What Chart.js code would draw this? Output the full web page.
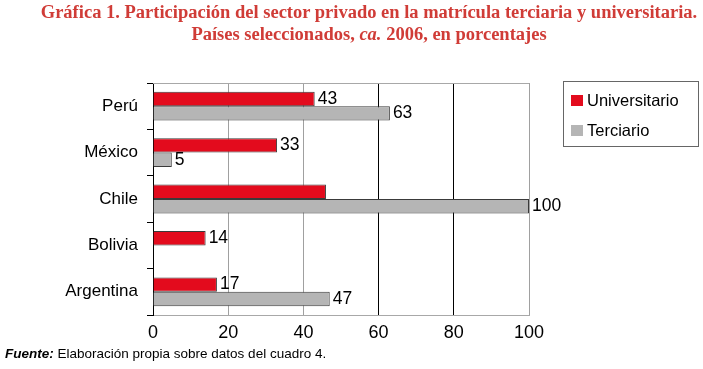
<!DOCTYPE html>
<html lang="es">
<head>
<meta charset="utf-8">
<script src="https://cdn.jsdelivr.net/npm/chart.js@4"></script>
<style>
    body { margin: 0; background: #ffffff; }
    #marco { position: relative; width: 703px; height: 369px; overflow: hidden; }
    #grafico { position: absolute; left: 0; top: 0; }
    #titulo {
        position: absolute; left: 19px; width: 700px; top: 1px;
        text-align: center; color: #d03c37;
        font: bold 18.5px "Liberation Serif", "Times New Roman", serif;
        line-height: 22px;
    }
    #fuente {
        position: absolute; left: 5px; top: 346px;
        font: 13.5px "Liberation Sans", Arial, sans-serif; color: #000;
    }
</style>
</head>
<body>
<div id="marco">
    <canvas id="grafico" width="703" height="369"></canvas>
    <div id="titulo">Gráfica 1. Participación del sector privado en la matrícula terciaria y universitaria.<br>Países seleccionados, <i>ca.</i> 2006, en porcentajes</div>
    <div id="fuente"><b><i>Fuente:</i></b> Elaboración propia sobre datos del cuadro 4.</div>
</div>
<script>
const paises = ["Perú", "México", "Chile", "Bolivia", "Argentina"];
const universitario = [43, 33, 46, 14, 17];
const terciario = [63, 5, 100, null, 47];
const ticksX = [0, 20, 40, 60, 80, 100];
// barras sin cifra impresa en el original
const sinEtiqueta = [["Universitario", "Chile"]];

const fuente = "'Liberation Sans', Arial, sans-serif";

const extras = {
    id: "extras",
    afterDatasetsDraw(chart) {
        const ctx = chart.ctx;
        const area = chart.chartArea;
        ctx.save();
        // borde superior
        ctx.strokeStyle = "#a8a8a8";
        ctx.lineWidth = 1;
        ctx.beginPath();
        ctx.moveTo(area.left, area.top + 0.5);
        ctx.lineTo(area.right, area.top + 0.5);
        ctx.stroke();

        // cifras junto a las barras
        ctx.fillStyle = "#000";
        ctx.font = "17.5px " + fuente;
        ctx.textAlign = "left";
        ctx.textBaseline = "middle";
        chart.data.datasets.forEach((ds, i) => {
            chart.getDatasetMeta(i).data.forEach((bar, j) => {
                const v = ds.data[j];
                if (v === null) return;
                const oculto = sinEtiqueta.some(s => s[0] === ds.label && s[1] === paises[j]);
                if (oculto) return;
                ctx.fillText(String(v), bar.x + 3, bar.y);
            });
        });

        // leyenda con recuadro
        ctx.strokeStyle = "#666";
        ctx.strokeRect(563.5, 81.5, 135, 65);
        ctx.font = "16.5px " + fuente;
        chart.data.datasets.forEach((ds, i) => {
            const y = 100 + i * 30;
            ctx.fillStyle = ds.backgroundColor;
            ctx.fillRect(571, y - 5, 12, 11);
            ctx.fillStyle = "#000";
            ctx.fillText(ds.label, 587, y + 1);
        });
        ctx.restore();
    }
};

new Chart(document.getElementById("grafico"), {
    type: "bar",
    data: {
        labels: paises,
        datasets: [{
            label: "Universitario",
            data: universitario,
            backgroundColor: "#e30b1d",
            borderColor: "#3a3a3a",
            borderWidth: 1,
            categoryPercentage: 0.62,
            barPercentage: 1
        }, {
            label: "Terciario",
            data: terciario,
            backgroundColor: "#b5b5b5",
            borderColor: "#3a3a3a",
            borderWidth: 1,
            categoryPercentage: 0.62,
            barPercentage: 1
        }]
    },
    options: {
        indexAxis: "y",
        responsive: false,
        animation: false,
        layout: { padding: { left: 0, right: 174, top: 83, bottom: 24 } },
        plugins: {
            legend: { display: false },
            tooltip: { enabled: false }
        },
        scales: {
            x: {
                min: 0,
                max: 100,
                afterBuildTicks: scale => {
                    scale.ticks = ticksX.map(v => ({ value: v }));
                },
                afterFit: scale => { scale.height = 30; },
                grid: {
                    drawTicks: false,
                    color: c => (c.tick && (c.tick.value === 60 || c.tick.value === 80 || c.tick.value === 0)) ? "#000000" : "#a0a0a0"
                },
                border: { color: "#a8a8a8" },
                ticks: {
                    color: "#000",
                    padding: 7,
                    font: { family: fuente, size: 18 }
                }
            },
            y: {
                afterFit: scale => { scale.width = 153; },
                grid: {
                    drawOnChartArea: false,
                    offset: true,
                    tickLength: 6,
                    color: "#000"
                },
                border: { color: "#000" },
                ticks: {
                    color: "#000",
                    padding: 9,
                    font: { family: fuente, size: 17 }
                }
            }
        }
    },
    plugins: [extras]
});
</script>
</body>
</html>
